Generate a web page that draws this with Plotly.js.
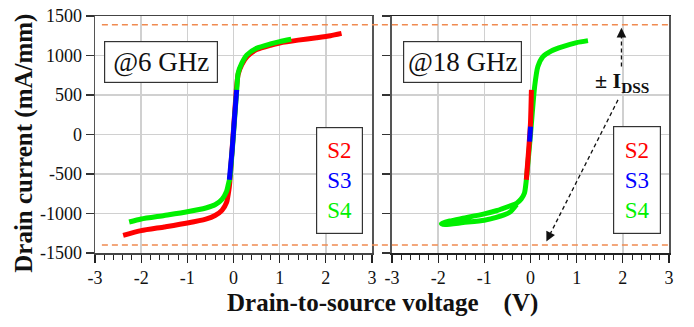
<!DOCTYPE html>
<html>
<head>
<meta charset="utf-8">
<script src="https://cdn.plot.ly/plotly-3.0.1.min.js"></script>
<style>html,body{margin:0;padding:0;background:#fff;}#chart{width:694px;height:327px;}</style>
</head>
<body>
<div id="chart"></div>
<script>
// ---- Data ----
// 6 GHz panel
const v6_S2 = [-2.39, -2.0, -1.5, -1.0, -0.6, -0.4, -0.25, -0.15, -0.1, -0.08, 0.06, 0.1, 0.18, 0.3, 0.5, 0.8, 1.0, 1.4, 1.8, 2.1, 2.34];
const i6_S2 = [-1277, -1217, -1170, -1120, -1070, -1025, -960, -860, -700, -600, 560, 760, 885, 990, 1075, 1130, 1158, 1195, 1225, 1250, 1280];
const v6_S4 = [-2.26, -2.0, -1.5, -1.0, -0.6, -0.4, -0.25, -0.15, -0.1, -0.08, 0.07, 0.1, 0.18, 0.29, 0.5, 0.8, 1.0, 1.25];
const i6_S4 = [-1108, -1070, -1025, -978, -930, -890, -820, -720, -600, -560, 565, 776, 903, 1008, 1092, 1147, 1176, 1206];
const v6_S3 = [-0.09, -0.03, 0.02, 0.068];
const i6_S3 = [-573, -200, 200, 565];
// 18 GHz panel
const v18_S4 = [1.245, 1.0, 0.7, 0.45, 0.27, 0.16, 0.09, 0.0, -0.09, -0.13, -0.2, -0.3, -0.45, -0.74, -1.0, -1.46, -1.75, -1.93, -1.85, -1.46, -1.0, -0.74, -0.45, -0.3];
const i18_S4 = [1188, 1163, 1113, 1058, 986, 860, 607, 0, -573, -741, -815, -870, -905, -965, -1005, -1060, -1095, -1128, -1140, -1115, -1085, -1050, -985, -885];
const v18_S2 = [-0.09, -0.04, 0.0, 0.02];
const i18_S2 = [-573, -200, 150, 565];
const v18_S3 = [-0.02, 0.0];
const i18_S3 = [-90, 100];
// ±IDSS levels
const idssPos = 1390;
const idssNeg = -1400;
// ticks
const xTickVals = [-3, -2, -1, 0, 1, 2, 3];
const xTickText = ['-3', '-2', '-1', '0', '1', '2', '3'];
const yTickVals = [-1500, -1000, -500, 0, 500, 1000, 1500];
const yTickText = ['-1500', '-1000', '-500', '0', '500', '1000', '1500'];

const RED = '#ff0000', BLUE = '#0000ff', GREEN = '#00f000';
const LW = 5;
function tr(x, y, color, xa, ya) {
  return {x: x, y: y, type: 'scatter', mode: 'lines', xaxis: xa, yaxis: ya,
          line: {color: color, width: LW, shape: 'spline', smoothing: 0.6}, hoverinfo: 'skip', showlegend: false};
}
const data = [
  tr(v6_S2, i6_S2, RED, 'x', 'y'),
  tr(v6_S4, i6_S4, GREEN, 'x', 'y'),
  tr(v6_S3, i6_S3, BLUE, 'x', 'y'),
  tr(v18_S4, i18_S4, GREEN, 'x2', 'y2'),
  tr(v18_S2, i18_S2, RED, 'x2', 'y2'),
  tr(v18_S3, i18_S3, BLUE, 'x2', 'y2')
];

const FONT = 'Liberation Serif';
function xax(domain, lc) {
  return {domain: domain, range: [-3, 3], tickmode: 'array', tickvals: xTickVals, ticktext: xTickText,
          ticks: 'outside', ticklen: 8, tickwidth: 1.2, tickcolor: '#222',
          minor: {dtick: 0.2, tick0: 0, ticks: 'outside', ticklen: 5, tickwidth: 1, tickcolor: '#222', showgrid: false},
          showgrid: true, gridcolor: '#d0d0d0', gridwidth: 1.5, zeroline: false,
          showline: true, linecolor: lc, linewidth: 1.5, mirror: true,
          tickfont: {family: FONT, size: 18, color: '#111'}, fixedrange: true};
}
function yax(anchor, labels) {
  return {anchor: anchor, range: [-1500, 1500], tickmode: 'array', tickvals: yTickVals, ticktext: yTickText,
          showticklabels: labels, ticks: 'outside', ticklen: 8, tickwidth: 1.2, tickcolor: '#333',
          showgrid: true, gridcolor: '#d0d0d0', gridwidth: 1.5, zeroline: false,
          showline: true, linecolor: '#555', linewidth: 1.5, mirror: true,
          tickfont: {family: FONT, size: 18, color: '#111'}, fixedrange: true};
}

const legendText = "<span style='color:" + RED + "'>S2</span><br><span style='color:" + BLUE + "'>S3</span><br><span style='color:" + GREEN + "'>S4</span>";

const layout = {
  width: 694, height: 327,
  margin: {l: 95, r: 25, t: 16, b: 74},
  paper_bgcolor: '#fff', plot_bgcolor: '#fff',
  font: {family: FONT, color: '#111'},
  showlegend: false,
  xaxis: xax([0, 0.4826], '#444'),
  xaxis2: xax([0.5174, 1], '#222'),
  yaxis: yax('x', true),
  yaxis2: yax('x2', false),
  shapes: [
    {type: 'line', xref: 'paper', yref: 'y', x0: 0.012, x1: 1, y0: idssPos, y1: idssPos, line: {color: '#f08a50', width: 1.5, dash: '6px,4px'}},
    {type: 'line', xref: 'paper', yref: 'y', x0: 0.012, x1: 1, y0: idssNeg, y1: idssNeg, line: {color: '#f08a50', width: 1.5, dash: '6px,4px'}},
    {type: 'line', xref: 'x2', yref: 'y2', x0: 1.97, x1: 1.97, y0: 860, y1: 1300, line: {color: '#111', width: 1.3, dash: '4px,3px'}},
    {type: 'line', xref: 'x2', yref: 'y2', x0: 1.895, x1: 0.40, y0: 438, y1: -1290, line: {color: '#111', width: 1.3, dash: '4px,3px'}}
  ],
  annotations: [
    {xref: 'paper', yref: 'paper', x: 0.5, y: -0.21, xanchor: 'center', yanchor: 'middle', showarrow: false,
     text: '<b>Drain-to-source voltage\u00a0\u00a0\u00a0 (V)</b>', font: {family: FONT, size: 25, color: '#111'}},
    {xref: 'paper', yref: 'paper', x: -0.125, y: 0.462, xanchor: 'center', yanchor: 'middle', showarrow: false, textangle: -90,
     text: '<b>Drain current (mA/mm)</b>', font: {family: FONT, size: 25, color: '#111'}},
    {xref: 'x', yref: 'y', x: -1.57, y: 919, showarrow: false, text: '@6 GHz',
     font: {family: FONT, size: 27, color: '#111'}, bordercolor: '#333', borderwidth: 1.2, borderpad: 2, width: 108, height: 36, bgcolor: '#fff'},
    {xref: 'x2', yref: 'y2', x: -1.48, y: 919, showarrow: false, text: '@18 GHz',
     font: {family: FONT, size: 27, color: '#111'}, bordercolor: '#333', borderwidth: 1.2, borderpad: 2, width: 113, height: 36, bgcolor: '#fff'},
    {xref: 'x', yref: 'y', x: 2.29, y: -580, showarrow: false, text: legendText,
     font: {family: FONT, size: 23}, bordercolor: '#333', borderwidth: 1.2, borderpad: 2, width: 41, height: 101, bgcolor: '#fff'},
    {xref: 'x2', yref: 'y2', x: 2.31, y: -580, showarrow: false, text: legendText,
     font: {family: FONT, size: 23}, bordercolor: '#333', borderwidth: 1.2, borderpad: 2, width: 42, height: 102, bgcolor: '#fff'},
    {xref: 'x2', yref: 'y2', x: 1.98, y: 666, showarrow: false, text: '<b>± I<sub>DSS</sub></b>',
     font: {family: FONT, size: 22, color: '#111'}},
    {xref: 'x2', yref: 'y2', x: 1.97, y: 1350, axref: 'x2', ayref: 'y2', ax: 1.97, ay: 1250, showarrow: true,
     arrowhead: 2, arrowsize: 1.6, arrowwidth: 1.2, arrowcolor: '#111', text: ' ', font: {size: 1}, borderpad: 0},
    {xref: 'x2', yref: 'y2', x: 0.344, y: -1353, axref: 'x2', ayref: 'y2', ax: 0.44, ay: -1240, showarrow: true,
     arrowhead: 2, arrowsize: 1.6, arrowwidth: 1.2, arrowcolor: '#111', text: ' ', font: {size: 1}, borderpad: 0}
  ]
};

Plotly.newPlot('chart', data, layout, {displayModeBar: false, staticPlot: true});
</script>
</body>
</html>
